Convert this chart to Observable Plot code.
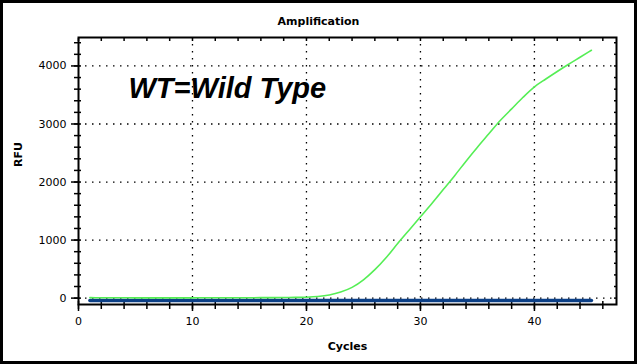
<!DOCTYPE html>
<html>
<head>
<meta charset="utf-8">
<script src="https://cdn.jsdelivr.net/npm/d3@7"></script>
<script src="https://cdn.jsdelivr.net/npm/@observablehq/plot@0.6"></script>
<style>
  html, body { margin: 0; padding: 0; background: #fff; }
  #chart svg { display: block; outline: 3px solid #000; outline-offset: -3px; }
</style>
</head>
<body>
<div id="chart"></div>
<script>
// Cycles 1..45
const cycles = [1,2,3,4,5,6,7,8,9,10,11,12,13,14,15,16,17,18,19,20,21,22,23,24,25,26,27,28,29,30,31,32,33,34,35,36,37,38,39,40,41,42,43,44,45];
// Wild type (green) RFU
const wtRFU = [8,7,6,6,5,5,5,5,5,5,6,6,6,7,7,8,9,10,12,16,28,55,105,185,315,490,700,940,1170,1400,1630,1870,2110,2360,2600,2830,3060,3260,3460,3640,3775,3905,4030,4150,4270];
// Negative / baseline (blue) RFU
const negRFU = [-40,-40,-40,-40,-40,-40,-40,-40,-40,-40,-40,-40,-40,-40,-40,-40,-40,-40,-40,-40,-40,-40,-40,-40,-40,-40,-40,-40,-40,-40,-40,-40,-40,-40,-40,-40,-40,-40,-40,-40,-40,-40,-40,-40,-40];

const xMajorTicks = [0, 10, 20, 30, 40];
const xMinorTicks = [0,2,4,6,8,10,12,14,16,18,20,22,24,26,28,30,32,34,36,38,40,42,44,46];
const yMajorTicks = [0, 1000, 2000, 3000, 4000];
const yMinorTicks = [0,200,400,600,800,1000,1200,1400,1600,1800,2000,2200,2400,2600,2800,3000,3200,3400,3600,3800,4000,4200,4400];

const titleText = "Amplification";
const xLabel = "Cycles";
const yLabel = "RFU";
const annotation = "WT=Wild Type";

const wt = cycles.map((c, i) => ({cycle: c, rfu: wtRFU[i]}));
const neg = cycles.map((c, i) => ({cycle: c, rfu: negRFU[i]}));

const dots = "1.5,5.5";

const chart = Plot.plot({
  width: 637,
  height: 364,
  marginLeft: 78,
  marginRight: 21,
  marginTop: 37,
  marginBottom: 60,
  style: {fontFamily: "'DejaVu Sans', Tahoma, sans-serif", fontSize: "11px", color: "#000", background: "#fff"},
  x: {domain: [0, 47.2]},
  y: {domain: [-110, 4490]},
  marks: [
    Plot.gridX(xMajorTicks.filter(d => d > 0), {stroke: "#000", strokeOpacity: 1, strokeWidth: 1.3, strokeDasharray: dots}),
    Plot.gridY(yMajorTicks, {stroke: "#000", strokeOpacity: 1, strokeWidth: 1.3, strokeDasharray: dots}),
    // bottom axis
    Plot.axisX(xMajorTicks, {anchor: "bottom", tickSize: 7, tickPadding: 6, tickFormat: d => String(d), label: null, strokeWidth: 1.5}),
    Plot.axisX(xMinorTicks, {anchor: "bottom", tickSize: 5, fill: "none", label: null, strokeWidth: 1.5}),
    Plot.axisX(xMinorTicks, {anchor: "bottom", tickSize: -3, fill: "none", label: null, strokeWidth: 1.5}),
    Plot.axisX(xMinorTicks, {anchor: "top", tickSize: -3, fill: "none", label: null, strokeWidth: 1.5}),
    // left axis
    Plot.axisY(yMajorTicks, {anchor: "left", tickSize: 7, tickPadding: 5, tickFormat: d => String(d), label: null, strokeWidth: 1.5}),
    Plot.axisY(yMinorTicks, {anchor: "left", tickSize: 4, fill: "none", label: null, strokeWidth: 1.5}),
    Plot.axisY(yMinorTicks, {anchor: "left", tickSize: -3, fill: "none", label: null, strokeWidth: 1.5}),
    Plot.axisY(yMinorTicks, {anchor: "right", tickSize: -3, fill: "none", label: null, strokeWidth: 1.5}),
    Plot.frame({stroke: "#000", strokeWidth: 2}),
    Plot.line(neg, {x: "cycle", y: "rfu", stroke: "#0b3f86", strokeWidth: 3.5}),
    Plot.line(wt, {x: "cycle", y: "rfu", stroke: "#55ee55", strokeWidth: 1.6, curve: "monotone-x"}),
    Plot.text([titleText], {text: d => d, frameAnchor: "top", dx: -29, dy: -16.5, fontWeight: "bold", fontSize: 11, lineAnchor: "middle"}),
    Plot.text([xLabel], {text: d => d, frameAnchor: "bottom", dy: 42, fontWeight: "bold", fontSize: 11, lineAnchor: "middle"}),
    Plot.text([yLabel], {text: d => d, frameAnchor: "left", dx: -60, dy: -4, rotate: -90, fontWeight: "bold", fontSize: 11, lineAnchor: "middle"}),
    Plot.text([annotation], {text: d => d, frameAnchor: "top-left", dx: 50, dy: 51, textAnchor: "start", lineAnchor: "middle", fontSize: 29, fontWeight: "bold", fontStyle: "italic", fontFamily: "'Liberation Sans', Arial, sans-serif"})
  ]
});
document.getElementById("chart").appendChild(chart);
</script>
</body>
</html>
